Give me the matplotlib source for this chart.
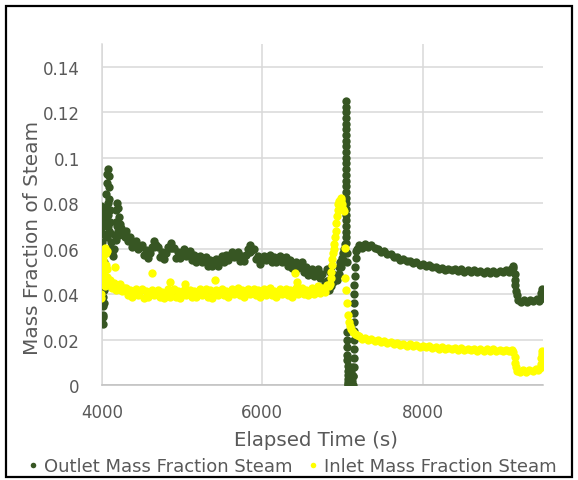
import matplotlib
matplotlib.use("Agg")
import matplotlib.pyplot as plt
from matplotlib.lines import Line2D
from matplotlib.patches import Rectangle

plt.rcParams["font.family"] = ["DejaVu Sans"]

# Outlet steam mass fraction (dark green)
outlet_time = [
    3992, 3994, 3996, 3998, 4000, 4002, 4004, 4005, 4006, 4007, 4008, 4009, 4010, 4011, 4012,
    4018, 4020, 4022, 4025, 4028, 4030, 4034, 4038, 4045, 4050, 4058, 4065, 4075, 4082, 4088,
    4092, 4096, 4100, 4105, 4110, 4115, 4125, 4135, 4150, 4160, 4170, 4180, 4192, 4205, 4215,
    4225, 4240, 4255, 4270, 4285, 4010, 4015, 4020, 4060, 4070, 4080, 4075, 4085, 4060, 4175,
    4185, 4195, 4210,
    4300, 4325, 4350, 4375, 4400, 4425, 4450, 4475, 4500, 4525, 4550, 4575, 4600, 4625, 4650,
    4675, 4700, 4725, 4750, 4775, 4800, 4825, 4850, 4875, 4900, 4925, 4950, 4975, 5000, 5025,
    5050, 5075, 5100, 5125, 5150, 5175, 5200, 5225, 5250, 5275, 5300, 5325, 5350, 5375, 5400,
    5425, 5450, 5475, 5500, 5525, 5550, 5575, 5600, 5625, 5650, 5675, 5700, 5725, 5750, 5775,
    5800, 5825, 5850, 5875, 5900, 5925, 5950, 5975, 6000, 6025, 6050, 6075, 6100, 6125, 6150,
    6175, 6200, 6225, 6250, 6275, 6300, 6325, 6350, 6375, 6400, 6425, 6450, 6475, 6500, 6525,
    6550, 6575, 6600, 6625, 6650, 6675, 6700, 6725, 6750, 6775, 6800, 6825, 6850, 6875, 6900,
    6925, 6950, 5850, 4650, 4860,
    6810, 6840, 6860, 6880, 6830,
    6960, 6970, 6980, 6990, 7000, 7010, 7020, 7030, 7035,
    7040, 7040, 7041, 7041, 7042, 7042, 7043, 7043, 7044, 7044, 7045, 7045, 7046,
    7046, 7046, 7047, 7047, 7047, 7048, 7048, 7048, 7048, 7049, 7049, 7049, 7049,
    7052, 7054, 7057, 7058, 7059, 7060, 7061, 7062, 7063, 7064, 7065, 7066, 7067, 7068,
    7075, 7085, 7095, 7105, 7115, 7080, 7100, 7120, 7130,
    7135, 7136, 7137, 7138, 7139, 7140, 7141, 7142, 7143, 7144, 7145, 7147, 7150, 7155,
    7162, 7170,
    7180, 7200, 7240, 7280, 7320, 7360, 7400, 7440, 7480, 7520, 7560, 7600, 7640, 7680, 7720,
    7760, 7800, 7840, 7880, 7920, 7960, 8000, 8040, 8080, 8120, 8160, 8200, 8240, 8280, 8320,
    8360, 8400, 8440, 8480, 8520, 8560, 8600, 8640, 8680, 8720, 8760, 8800, 8840, 8880, 8920,
    8960, 9000, 9040, 9080, 9100, 9120, 9130, 9145, 9150, 9155, 9160, 9170, 9185, 9220, 9260,
    9300, 9340, 9380, 9420, 9450, 9470, 9478, 9483, 9490, 9495,
]
outlet_frac = [
    .0790, .0760, .0730, .0700, .0670, .0630, .0590, .0550, .0510, .0470, .0430, .0390, .0350, .0310, .0270,
    .0300, .0360, .0420, .0480, .0540, .0600, .0660, .0720, .0780, .0840, .0890, .0930, .0950, .0920, .0870,
    .0820, .0770, .0720, .0670, .0630, .0600, .0580, .0570, .0600, .0660, .0720, .0770, .0800, .0780, .0740,
    .0710, .0690, .0670, .0660, .0650, .0780, .0700, .0750, .0650, .0700, .0750, .0800, .0680, .0600, .0640,
    .0700, .0680, .0660,
    .0680, .0635, .0650, .0610, .0625, .0635, .0600, .0610, .0615, .0575, .0595, .0560, .0580, .0610, .0610,
    .0615, .0610, .0565, .0585, .0555, .0580, .0610, .0605, .0605, .0605, .0560, .0585, .0560, .0585, .0600,
    .0570, .0575, .0590, .0550, .0575, .0540, .0560, .0570, .0540, .0550, .0565, .0525, .0550, .0525, .0545,
    .0555, .0525, .0545, .0570, .0540, .0575, .0550, .0570, .0585, .0565, .0575, .0585, .0545, .0570, .0545,
    .0575, .0600, .0585, .0595, .0600, .0555, .0570, .0535, .0555, .0570, .0550, .0560, .0575, .0540, .0565,
    .0540, .0560, .0570, .0540, .0550, .0565, .0525, .0550, .0515, .0530, .0540, .0515, .0525, .0540, .0500,
    .0520, .0485, .0500, .0510, .0480, .0495, .0510, .0470, .0490, .0450, .0460, .0465, .0435, .0455, .0480,
    .0465, .0520, .0615, .0635, .0625,
    .0510, .0500, .0520, .0490, .0420,
    .0490, .0540, .0520, .0560, .0550, .0580, .0600, .0620, .0590,
    .0625, .0650, .0675, .0700, .0725, .0750, .0775, .0800, .0825, .0850, .0875, .0900, .0925,
    .0950, .0975, .1000, .1025, .1050, .1075, .1100, .1125, .1150, .1175, .1200, .1225, .1250,
    .0580, .0540, .0233, .0200, .0167, .0135, .0110, .0085, .0065, .0045, .0030, .0015, .0005, .0000,
    .0010, .0030, .0000, .0060, .0020, .0050, .0010, .0080, .0040,
    .0000, .0040, .0080, .0120, .0160, .0200, .0240, .0280, .0320, .0360, .0400, .0440, .0480, .0520,
    .0560, .0590,
    .0600, .0615, .0605, .0620, .0610, .0618, .0603, .0600, .0588, .0590, .0578, .0578, .0566, .0565, .0553,
    .0555, .0545, .0547, .0537, .0540, .0530, .0535, .0525, .0530, .0520, .0522, .0512, .0518, .0508, .0512,
    .0505, .0512, .0503, .0510, .0500, .0507, .0498, .0505, .0497, .0503, .0495, .0502, .0494, .0501, .0495,
    .0503, .0497, .0505, .0500, .0510, .0525, .0515, .0490, .0465, .0440, .0415, .0395, .0375, .0368, .0375,
    .0368, .0377, .0370, .0378, .0372, .0385, .0405, .0425, .0410, .0385,
]

# Inlet steam mass fraction (yellow)
inlet_time = [
    3990, 3992, 3996, 3998, 4005, 4010, 4015, 4025, 4040, 4045, 4020, 4030, 4035, 4050, 4060,
    4062, 4070, 4080, 4095, 4058, 4037,
    4100, 4125, 4150, 4175, 4200, 4225, 4250, 4275, 4300, 4325, 4350, 4375, 4400, 4425, 4450,
    4475, 4500, 4525, 4550, 4575, 4600, 4625, 4650, 4675, 4700, 4725, 4750, 4775, 4800, 4825,
    4850, 4875, 4900, 4925, 4950, 4975, 5000, 5025, 5050, 5075, 5100, 5125, 5150, 5175, 5200,
    5225, 5250, 5275, 5300, 5325, 5350, 5375, 5400, 5425, 5450, 5475, 5500, 5525, 5550, 5575,
    5600, 5625, 5650, 5675, 5700, 5725, 5750, 5775, 5800, 5825, 5850, 5875, 5900, 5925, 5950,
    5975, 6000, 6025, 6050, 6075, 6100, 6125, 6150, 6175, 6200, 6225, 6250, 6275, 6300, 6325,
    6350, 6375, 6400, 6425, 6450, 6475, 6500, 6525, 6550, 6575, 6600, 6625, 6650, 6675, 6700,
    6725, 6750, 6775, 6800, 6825,
    4162, 4619, 4850, 5035, 5408, 6405, 6426,
    6840, 6850, 6858, 6866, 6874, 6882, 6890, 6898, 6906, 6914, 6922, 6930, 6938, 6948, 6960,
    6975, 6985, 6995, 7005, 7015, 7028, 7035, 7045, 7055, 7065, 7080, 7095, 7110, 7130, 7150,
    7175,
    7200, 7240, 7280, 7320, 7360, 7400, 7440, 7480, 7520, 7560, 7600, 7640, 7680, 7720, 7760,
    7800, 7840, 7880, 7920, 7960, 8000, 8040, 8080, 8120, 8160, 8200, 8240, 8280, 8320, 8360,
    8400, 8440, 8480, 8520, 8560, 8600, 8640, 8680, 8720, 8760, 8800, 8840, 8880, 8920, 8960,
    9000, 9040, 9080, 9110, 9130, 9145, 9155, 9165, 9180, 9210, 9250, 9290, 9330, 9370, 9410,
    9440, 9460, 9470, 9478, 9485, 9490,
]
inlet_frac = [
    .0385, .0400, .0560, .0540, .0520, .0550, .0570, .0590, .0605, .0580, .0480, .0500, .0460, .0530, .0510,
    .0475, .0465, .0450, .0460, .0590, .0437,
    .0465, .0430, .0450, .0420, .0440, .0445, .0415, .0430, .0430, .0395, .0420, .0390, .0410, .0425, .0395,
    .0415, .0425, .0385, .0415, .0390, .0405, .0420, .0395, .0410, .0420, .0390, .0410, .0385, .0405, .0425,
    .0390, .0415, .0425, .0390, .0415, .0385, .0400, .0420, .0395, .0410, .0420, .0390, .0415, .0390, .0405,
    .0425, .0395, .0410, .0425, .0390, .0420, .0385, .0410, .0420, .0395, .0415, .0425, .0395, .0415, .0390,
    .0410, .0425, .0400, .0415, .0430, .0395, .0420, .0390, .0405, .0425, .0400, .0410, .0425, .0395, .0420,
    .0390, .0410, .0425, .0395, .0415, .0430, .0395, .0415, .0390, .0410, .0425, .0400, .0415, .0425, .0395,
    .0420, .0390, .0410, .0430, .0400, .0415, .0430, .0400, .0420, .0395, .0415, .0430, .0400, .0420, .0435,
    .0405, .0430, .0410, .0440, .0435,
    .0520, .0495, .0455, .0445, .0465, .0495, .0455,
    .0445, .0470, .0500, .0530, .0555, .0580, .0600, .0620, .0650, .0680, .0715, .0745, .0770, .0795, .0810,
    .0825, .0815, .0795, .0775, .0765, .0605, .0470, .0420, .0360, .0310, .0280, .0262, .0248, .0235, .0225,
    .0220,
    .0215, .0205, .0210, .0200, .0203, .0195, .0198, .0190, .0195, .0187, .0190, .0183, .0187, .0178, .0182,
    .0175, .0180, .0172, .0177, .0170, .0175, .0167, .0172, .0165, .0170, .0162, .0168, .0160, .0166, .0159,
    .0164, .0157, .0163, .0155, .0162, .0154, .0160, .0153, .0160, .0152, .0159, .0152, .0158, .0151, .0157,
    .0150, .0157, .0150, .0155, .0148, .0125, .0100, .0080, .0065, .0060, .0068, .0060, .0069, .0062, .0070,
    .0066, .0075, .0095, .0120, .0140, .0150,
]

x_ticks = [4000, 6000, 8000]
y_ticks = [0, 0.02, 0.04, 0.06, 0.08, 0.1, 0.12, 0.14]
y_tick_labels = ["0", "0.02", "0.04", "0.06", "0.08", "0.1", "0.12", "0.14"]

text_color = "#595959"
outlet_color = "#375623"
inlet_color = "#ffff00"

fig = plt.figure(figsize=(5.78, 4.81), dpi=100)
ax = fig.add_axes([102 / 578, 94.6 / 481, 441 / 578, 341.4 / 481])

ax.scatter(outlet_time, outlet_frac, s=36, color=outlet_color, linewidths=0, zorder=3)
ax.scatter(inlet_time, inlet_frac, s=36, color=inlet_color, linewidths=0, zorder=4)

ax.set_xlim(4000, 9500)
ax.set_ylim(0, 0.15)
ax.set_xticks(x_ticks)
ax.set_xticklabels([str(t) for t in x_ticks])
ax.set_yticks(y_ticks)
ax.set_yticklabels(y_tick_labels)
ax.tick_params(length=0, labelsize=12, colors=text_color)
ax.tick_params(axis="y", pad=16)
ax.tick_params(axis="x", pad=13)
ax.grid(True, color="#d9d9d9", lw=1.1)
ax.set_axisbelow(True)
for side in ("top", "right"):
    ax.spines[side].set_visible(False)
ax.spines["left"].set_color("#d9d9d9")
ax.spines["left"].set_linewidth(1.1)
ax.spines["bottom"].set_color("#bfbfbf")
ax.spines["bottom"].set_linewidth(1.1)

ax.set_xlabel("Elapsed Time (s)", fontsize=14.2, color=text_color)
ax.set_ylabel("Mass Fraction of Steam", fontsize=14.4, color=text_color)
ax.xaxis.set_label_coords(0.485, -0.132)
ax.yaxis.set_label_coords(-0.136, 0.436)

handles = [
    Line2D([], [], ls="none", marker="o", ms=4, mew=0, color=outlet_color),
    Line2D([], [], ls="none", marker="o", ms=4, mew=0, color=inlet_color),
]
fig.legend(handles, ["Outlet Mass Fraction Steam", "Inlet Mass Fraction Steam"],
           loc="center", bbox_to_anchor=(0.506, 14 / 481), ncol=2, frameon=False,
           fontsize=13, labelcolor=text_color, handlelength=0.5, handletextpad=0.35,
           columnspacing=0.9, borderpad=0)

fig.patches.append(Rectangle((5.5 / 578, 3.5 / 481), 566 / 578, 471 / 481,
                             transform=fig.transFigure, fill=False, ec="black", lw=1.6))

fig.savefig("out.png", dpi=100)
